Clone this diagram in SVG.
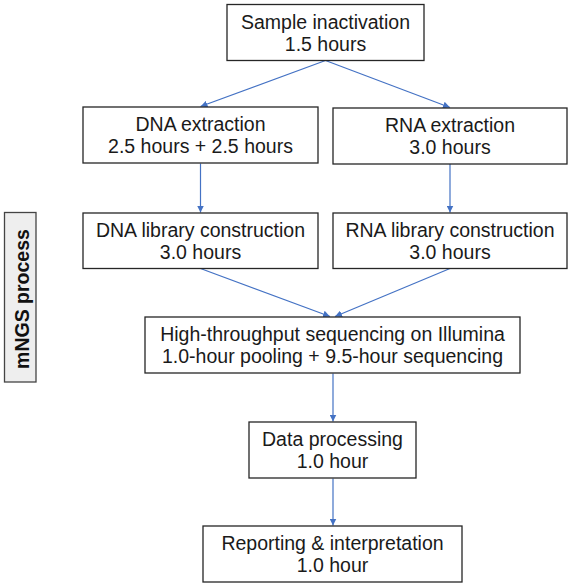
<svg xmlns="http://www.w3.org/2000/svg" width="570" height="585" viewBox="0 0 570 585">
<defs>
<marker id="ah" viewBox="0 0 10 10" refX="10" refY="5" markerWidth="7" markerHeight="7" markerUnits="userSpaceOnUse" orient="auto">
<path d="M0,0 L10,5 L0,10 z" fill="#4472c4"/>
</marker>
<style>
.box{fill:#ffffff;stroke:#262626;stroke-width:1.3}
.t{font-family:"Liberation Sans",Arial,sans-serif;font-size:19.5px;fill:#1a1a1a;text-anchor:middle}
.lbl{font-family:"Liberation Sans",Arial,sans-serif;font-size:19.5px;font-weight:bold;fill:#111111;text-anchor:middle}
.c{stroke:#4472c4;stroke-width:1.2;fill:none;marker-end:url(#ah)}
</style>
</defs>
<rect width="570" height="585" fill="#ffffff"/>
<g id="connectors">
<line class="c" x1="325.5" y1="60.5" x2="200.5" y2="106.5"/>
<line class="c" x1="325.5" y1="60.5" x2="450" y2="107.5"/>
<line class="c" x1="200.5" y1="163.5" x2="200.5" y2="212.5"/>
<line class="c" x1="450" y1="164" x2="450" y2="212.5"/>
<line class="c" x1="200.5" y1="268.5" x2="330" y2="316.5"/>
<line class="c" x1="450" y1="268.5" x2="335" y2="316.5"/>
<line class="c" x1="333" y1="373.5" x2="333" y2="421.5"/>
<line class="c" x1="333" y1="478.5" x2="333" y2="525.5"/>
</g>
<g id="label">
<rect x="4.5" y="212.5" width="31.5" height="169.5" fill="#eeeeee" stroke="#444444" stroke-width="1.3"/>
<text class="lbl" transform="translate(29,299) rotate(-90)">mNGS process</text>
</g>
<g id="sample">
<rect class="box" x="227" y="4.5" width="197" height="56"/>
<text class="t" x="325.5" y="28.5">Sample inactivation</text>
<text class="t" x="325.5" y="50.5">1.5 hours</text>
</g>
<g id="dna-extraction">
<rect class="box" x="83" y="107" width="235" height="56"/>
<text class="t" x="200.5" y="130.5">DNA extraction</text>
<text class="t" x="200.5" y="153">2.5 hours + 2.5 hours</text>
</g>
<g id="rna-extraction">
<rect class="box" x="333" y="108" width="234" height="56"/>
<text class="t" x="450" y="131.5">RNA extraction</text>
<text class="t" x="450" y="154">3.0 hours</text>
</g>
<g id="dna-library">
<rect class="box" x="83" y="213" width="235" height="55.5"/>
<text class="t" x="200.5" y="236.5">DNA library construction</text>
<text class="t" x="200.5" y="259">3.0 hours</text>
</g>
<g id="rna-library">
<rect class="box" x="333" y="213" width="234" height="55.5"/>
<text class="t" x="450" y="236.5">RNA library construction</text>
<text class="t" x="450" y="259">3.0 hours</text>
</g>
<g id="sequencing">
<rect class="box" x="145" y="317" width="375" height="56"/>
<text class="t" x="332.5" y="340.5">High-throughput sequencing on Illumina</text>
<text class="t" x="332.5" y="363">1.0-hour pooling + 9.5-hour sequencing</text>
</g>
<g id="data-processing">
<rect class="box" x="249" y="422" width="167" height="56"/>
<text class="t" x="332.5" y="445.5">Data processing</text>
<text class="t" x="332.5" y="468">1.0 hour</text>
</g>
<g id="reporting">
<rect class="box" x="203" y="526" width="259" height="56"/>
<text class="t" x="332.5" y="549.5">Reporting &amp; interpretation</text>
<text class="t" x="332.5" y="572">1.0 hour</text>
</g>
</svg>
